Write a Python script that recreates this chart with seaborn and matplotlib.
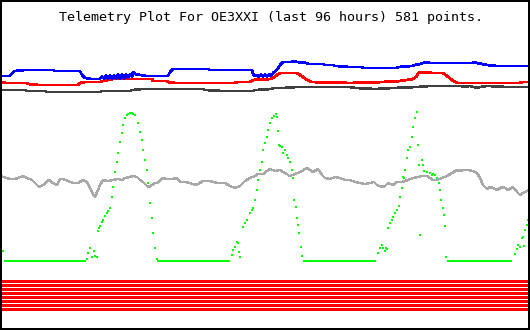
import matplotlib
matplotlib.use("Agg")
import matplotlib.pyplot as plt
import seaborn as sns
import pandas as pd

sns.set_theme(style="white")
plt.rcParams['font.family'] = ['DejaVu Sans Mono', 'DejaVu Sans']

TITLE = "Telemetry Plot For OE3XXI (last 96 hours) 581 points."

# time axis: 0..530 spans the last 96 hours
blue_t = [0,10,12,15,25,53,55,80,82,85,92,100,102,104,106,108,110,112,114,116,
          118,120,122,124,126,128,130,132,133,135,140,147,168,170,173,177,208,210,252,253,
          255,257,259,261,263,265,267,269,271,273,277,280,283,292,293,297,307,308,323,325,
          333,335,350,362,363,397,398,412,415,420,423,428,430,472,474,477,482,487,497,530]
blue_v = [254,254,257,259,260,260,259,259,255,252,251,251,254,251,255,251,255,251,255,251,
          256,251,256,251,256,252,256,253,258,256,255,254,254,258,261,261,261,260,260,256,
          254,255,253,256,253,256,253,256,254,257,260,265,268,268,269,268,267,266,266,265,
          265,264,263,263,262,262,263,264,265,266,267,268,267,267,268,267,266,265,264,264]

red_t = [0,3,5,12,27,28,38,78,80,85,100,103,113,152,153,167,168,175,235,237,
         250,253,270,273,277,280,297,300,303,307,312,350,383,400,413,417,418,425,432,443,
         447,452,457,467,520,522,530]
red_v = [248,248,247,247,247,246,245,245,247,248,248,249,251,251,249,249,248,247,247,248,
         248,250,251,252,255,257,257,255,253,250,248,247,248,249,251,254,257,258,257,257,
         254,250,247,247,247,248,248]

dark_t = [0,25,27,45,47,65,67,100,102,130,132,143,170,203,205,223,253,255,272,273,
          283,297,350,355,375,393,417,430,462,463,470,477,480,487,508,530]
dark_v = [240,240,239,239,238,238,238,238,239,239,240,241,241,241,240,239,239,240,241,242,
          242,243,243,242,241,242,243,244,244,243,244,242,243,244,243,243]

gray_t = [1,3,7,10,15,18,23,27,32,35,39,43,49,53,57,60,63,68,73,78,
          83,87,90,93,95,98,100,103,108,113,118,122,125,130,133,137,140,143,147,149,
          152,155,158,162,167,172,177,180,185,190,195,198,203,210,217,225,230,235,240,245,
          250,255,258,263,270,275,280,283,287,289,293,295,300,307,310,313,318,322,325,330,
          335,340,345,350,355,360,365,370,374,377,382,385,388,393,397,402,408,413,418,422,
          427,430,433,437,442,447,452,457,460,463,468,473,477,480,483,487,490,493,497,502,
          505,508,513,517,520,523,527,529]
gray_v = [154,153,152,151,151,152,154,152,150,147,143,145,150,147,145,151,151,149,147,147,
          150,148,142,136,133,140,145,150,149,150,151,150,152,153,154,153,150,148,144,143,
          145,147,147,152,151,151,152,148,148,147,145,146,149,149,147,147,144,142,144,149,
          152,154,156,156,161,159,160,158,156,154,155,156,158,162,160,158,161,155,152,151,
          153,152,150,150,148,147,146,147,148,145,143,144,147,145,148,148,150,152,153,154,
          154,152,150,150,152,154,157,160,159,160,160,159,157,152,145,141,143,142,140,143,
          142,140,143,138,135,137,139,140]

green_t = [1,3,87,88,90,92,94,95,97,98,99,100,102,103,105,107,108,110,112,113,
           115,117,118,120,122,123,125,127,128,130,132,133,135,138,140,142,143,145,147,148,
           150,152,153,155,157,
           232,233,235,237,238,239,240,243,245,247,250,252,253,255,257,258,260,262,263,265,
           267,268,270,272,274,276,277,278,279,280,282,283,285,287,288,290,292,293,294,296,
           297,298,299,301,302,
           378,380,382,383,385,386,387,388,390,392,393,395,397,399,400,402,403,404,405,407,
           408,410,412,413,415,417,418,419,420,422,423,424,427,430,432,433,435,437,439,440,
           441,443,444,445,446,
           515,517,518,520,522,523,524,525,527,528,529]
green_v = [84,79,71,77,82,73,79,74,73,99,102,104,108,110,114,117,119,122,133,143,
           158,168,177,188,197,205,212,215,216,217,217,216,215,207,198,190,180,170,160,147,
           127,112,97,82,71,
           75,80,83,88,87,78,73,103,107,110,117,120,122,130,140,150,160,168,180,187,
           193,200,207,212,214,216,213,199,185,184,183,177,180,175,172,168,160,152,130,123,
           112,105,97,83,74,
           77,82,85,82,79,82,81,102,107,110,113,117,120,124,133,142,153,152,160,172,
           180,183,193,203,212,218,185,165,95,170,165,159,158,157,155,156,155,152,147,140,
           130,122,115,104,73,
           76,81,85,83,92,93,84,100,105,110,113]
# green readings while flat at night level
night_start = [4, 157, 303, 447]
night_end = [86, 230, 376, 512]
night_level = 69

# constant channels drawn as red stripes
stripe_levels = [48.5, 44.5, 40.5, 36.5, 32.5, 28.5, 24.5, 20.5]

fig = plt.figure(figsize=(5.3, 3.3), dpi=100)
ax = fig.add_axes([0, 0, 1, 1])
ax.set_xlim(0, 530)
ax.set_ylim(0, 330)

px = 72 / 100.0
for lev in stripe_levels:
    ax.axhspan(lev - 1.5, lev + 1.5, color="#ff0000", linewidth=0)

sns.lineplot(x=gray_t, y=gray_v, ax=ax, color="#a8a8a8", linewidth=1.4 * px, antialiased=False)
sns.lineplot(x=dark_t, y=dark_v, ax=ax, color="#404040", linewidth=1.6 * px, antialiased=False)
sns.lineplot(x=red_t, y=red_v, ax=ax, color="#ff0000", linewidth=1.8 * px, antialiased=False)
sns.lineplot(x=blue_t, y=blue_v, ax=ax, color="#0000ff", linewidth=1.6 * px, antialiased=False)

ax.hlines([night_level] * len(night_start), night_start, night_end,
          colors="#00ff00", linewidth=1.8 * px, antialiased=False)
sns.scatterplot(x=green_t, y=green_v, ax=ax, color="#00ff00", marker="s",
                s=(2 * px) ** 2, linewidth=0)

ax.text(271, 309, TITLE, ha="center", va="baseline", fontsize=9.6, color="black",
        family=['DejaVu Sans Mono', 'DejaVu Sans'])

ax.set_xticks([])
ax.set_yticks([])
ax.set_xlabel("")
ax.set_ylabel("")
for s in ax.spines.values():
    s.set_visible(True)
    s.set_color("black")
    s.set_linewidth(4 * px)

fig.savefig("out.png", dpi=100, facecolor="white")
